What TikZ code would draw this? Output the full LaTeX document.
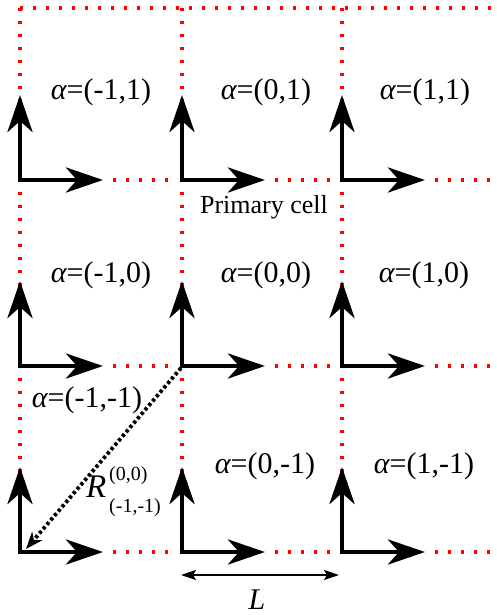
\documentclass[tikz,border=0pt]{standalone}
\usepackage{fontspec}
\setmainfont{Liberation Serif}
\usetikzlibrary{arrows.meta}
\begin{document}
\begin{tikzpicture}[x=1pt,y=-1pt,
  axisarrow/.style={line width=4.8pt,-{Stealth[length=37pt,width=25pt,inset=11pt]}},
  reddots/.style={red,line width=3.3pt,dash pattern=on 3.3pt off 9.7pt},
  blackdots/.style={line width=3.8pt,dash pattern=on 3.2pt off 2.6pt,-{Stealth[length=17pt,width=13pt,inset=5pt]}},
  dimarrow/.style={line width=1.7pt,{Stealth[length=15pt,width=10pt,inset=3pt]}-{Stealth[length=15pt,width=10pt,inset=3pt]}},
  cellname/.style={font=\fontsize{30}{30}\selectfont,inner sep=0pt,anchor=base},
  small/.style={font=\fontsize{26}{26}\selectfont,inner sep=0pt,anchor=base},
  scr/.style={font=\fontsize{20}{20}\selectfont,inner sep=0pt,anchor=base west}]
\useasboundingbox (0,0) rectangle (497,615);
% origins and tips
\foreach \i/\x in {0/20,1/182,2/342}{
  \foreach \j/\y in {0/180,1/366,2/552}{
    \coordinate (o\i\j) at (\x,\y);
    \coordinate (v\i\j) at (\x,\y-85);
    \coordinate (h\i\j) at (\x+83,\y);
  }
  \coordinate (top\i) at (\x,8);
}
\coordinate (topright) at (497,8);
\coordinate (r0) at (497,180);
\coordinate (r1) at (497,366);
\coordinate (r2) at (497,552);
% red dotted lattice
\draw[reddots] (top0) -- (topright);
\foreach \i in {0,1,2}{
  \draw[reddots] (top\i) -- ([yshift=-12pt]v\i0);
  \draw[reddots] ([yshift=-12pt]o\i0) -- ([yshift=-12pt]v\i1);
  \draw[reddots] ([yshift=-12pt]o\i1) -- ([yshift=-12pt]v\i2);
}
\foreach \j in {0,1,2}{
  \draw[reddots] ([xshift=10pt]h0\j) -- ([xshift=-4pt]o1\j);
  \draw[reddots] ([xshift=10pt]h1\j) -- ([xshift=-4pt]o2\j);
  \draw[reddots] ([xshift=10pt]h2\j) -- (r\j);
}
% axes
\foreach \i in {0,1,2}{
  \foreach \j in {0,1,2}{
    \draw[axisarrow] ([yshift=-2.4pt]o\i\j) -- (v\i\j);
    \draw[axisarrow] ([xshift=-2.4pt]o\i\j) -- (h\i\j);
  }
}
% cell labels
\node[cellname] (a-11) at (101,100) {{\itshape α}=(-1,1)};
\node[cellname] (a01) at (266,100) {{\itshape α}=(0,1)};
\node[cellname] (a11) at (425,100) {{\itshape α}=(1,1)};
\node[cellname] (a-10) at (101,282) {{\itshape α}=(-1,0)};
\node[cellname] (a00) at (266,282) {{\itshape α}=(0,0)};
\node[cellname] (a10) at (424,282) {{\itshape α}=(1,0)};
\node[cellname] (a-1-1) at (87,407) {{\itshape α}=(-1,-1)};
\node[cellname] (a0-1) at (265,473) {{\itshape α}=(0,-1)};
\node[cellname] (a1-1) at (424,473) {{\itshape α}=(1,-1)};
\node[small] (primary) at (264,213) {Primary cell};
% R vector
\coordinate (rtip) at (26,549);
\draw[blackdots] ([shift={(-1,2)}]o11) -- (rtip);
\node[font=\fontsize{33}{33}\selectfont\itshape,inner sep=0pt,anchor=base west] (R) at (86,497) {R};
\node[scr] (Rsup) at (109,480) {(0,0)};
\node[scr] (Rsub) at (109,512) {(-1,-1)};
% L dimension
\coordinate (Lleft) at (181,575);
\coordinate (Lright) at (339,575);
\draw[dimarrow] (Lleft) -- (Lright);
\node[font=\fontsize{30}{30}\selectfont\itshape,inner sep=0pt,anchor=base] (L) at (257,609) {L};
\end{tikzpicture}
\end{document}
